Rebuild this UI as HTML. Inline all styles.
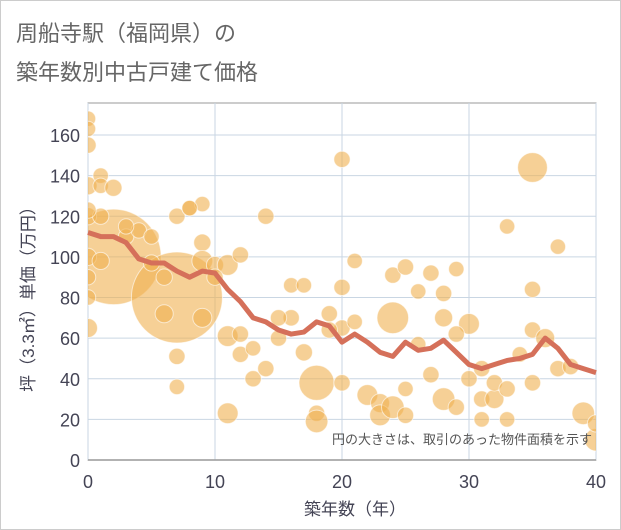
<!DOCTYPE html>
<html><head><meta charset="utf-8">
<style>
html,body{margin:0;padding:0;background:#fff;}
body{width:621px;height:530px;overflow:hidden;font-family:"Liberation Sans","Noto Sans CJK JP",sans-serif;}
#frame{position:absolute;left:0;top:0;width:619px;height:528px;border:1px solid #ccc;}
</style></head>
<body>
<div id="frame"></div>
<svg id="chart" width="621" height="530" style="position:absolute;left:0;top:0">
<text x="16" y="41" font-size="22" fill="#666" font-family="Liberation Sans, Noto Sans CJK JP, sans-serif">周船寺駅（福岡県）の</text>
<text x="16" y="80" font-size="22" fill="#666" font-family="Liberation Sans, Noto Sans CJK JP, sans-serif">築年数別中古戸建て価格</text>
<g id="grid"></g><g id="bubbles"></g><g id="line"></g><g id="axes"></g>
<text x="592" y="444" font-size="13" fill="#555" text-anchor="end" font-family="Liberation Sans, Noto Sans CJK JP, sans-serif">円の大きさは、取引のあった物件面積を示す</text>
<text x="355" y="515" font-size="17" fill="#445" text-anchor="middle" font-family="Liberation Sans, Noto Sans CJK JP, sans-serif">築年数（年）</text>
<text transform="translate(34,295) rotate(-90)" font-size="17" fill="#445" text-anchor="middle" font-family="Liberation Sans, Noto Sans CJK JP, sans-serif">坪（3.3㎡）単価（万円）</text>
</svg>
<script>
const xTicks=[0,10,20,30,40];
const yTicks=[0,20,40,60,80,100,120,140,160];
const trendVals=[112,110,110,107,99,97,97,93,90,93,92,84,78,70,68,64,62,63,68,66,58,62,58,53,51,58,54,55,59,53,47,45,47,49,50,52,60,55,47,45,43];
const bx=[2,7,35,24,18,28,39,11,11,0,0,0,0,0,0,0,0,0,1,1,1,1,2,3,4,5,5,6,7,7,7,8,9,9,9,9,10,11,12,12,13,13,14,14,15,16,16,17,17,18,18,19,20,20,20,20,21,21,22,23,23,24,24,25,25,25,26,27,27,28,28,29,29,30,30,31,31,31,32,32,33,33,34,35,35,35,36,37,37,38,40,0,3,6,8,10,12,15,19,26,29,33,40];
const by=[100,80,144,70,38,30,23,23,61,168,163,155,135,120,100,90,80,65,140,135,120,98,134,110,113,110,97,72,120,51,36,124,126,107,98,70,96,96,101,52,55,40,120,45,60,86,70,86,53,23,19,72,148,85,38,65,98,68,32,28,22,91,26,95,35,22,83,92,42,82,70,94,26,40,67,45,30,20,30,38,115,20,52,84,64,38,60,105,45,46,10,123,115,90,124,90,62,70,64,57,62,35,18];
const bs=[95,90,22,24,28,14,14,12,12,6,6,7,9,8,8,6,6,10,6,6,7,8,8,6,6,6,7,9,7,7,6,6,6,8,12,10,8,12,7,7,6,7,7,7,7,6,7,6,8,7,14,7,7,7,7,7,6,6,12,10,12,7,14,7,6,7,6,7,7,7,9,6,7,7,12,7,7,6,10,7,6,6,6,7,7,7,10,6,7,7,14,7,6,7,6,7,7,7,7,6,7,7,8];
const NS='http://www.w3.org/2000/svg';
const L=88,R=596,T=103,B=460;
const xs=v=>L+(v-0)/(40-0)*(R-L);
const ys=v=>B-(v-0)/160*(B-135);
const rs=s=>5+s*0.45;
function mk(tag,attrs,parent){const e=document.createElementNS(NS,tag);for(const k in attrs)e.setAttribute(k,attrs[k]);parent.appendChild(e);return e;}
const grid=document.getElementById('grid');
const bg=mk('rect',{x:L,y:T,width:R-L,height:B-T,fill:'#fff',stroke:'#999','stroke-width':1},grid);


yTicks.forEach(v=>{const l=mk('line',{x1:L,x2:R,y1:ys(v),y2:ys(v),stroke:'#c9d6e3','stroke-width':1},grid);


const t=mk('text',{x:L-8,y:ys(v)+7,'font-size':18,fill:'#445','text-anchor':'end'},grid);t.textContent=v;

});
xTicks.forEach(v=>{const l=mk('line',{x1:xs(v),x2:xs(v),y1:T,y2:B,stroke:'#c9d6e3','stroke-width':1},grid);


const t=mk('text',{x:xs(v),y:B+28,'font-size':18,fill:'#445','text-anchor':'middle'},grid);t.textContent=v;

});
const bub=document.getElementById('bubbles');
const cp=mk('clipPath',{id:'clip'},bub);mk('rect',{x:L,y:T,width:R-L,height:B-T},cp);
const bg2=mk('g',{'clip-path':'url(#clip)'},bub);
for(let i=0;i<bx.length;i++){const c=mk('circle',{cx:xs(bx[i]),cy:ys(by[i]),r:rs(bs[i]),fill:'rgba(240,176,80,0.6)',stroke:'#fff','stroke-opacity':0.6,'stroke-width':1},bg2);

}
const ln=document.getElementById('line');
const p=mk('polyline',{points:trendVals.map((v,i)=>xs(i)+','+ys(v)).join(' '),fill:'none',stroke:'#d5705a','stroke-width':5,'stroke-linejoin':'round'},ln);


const ax=document.getElementById('axes');
const xa=mk('line',{x1:L,x2:R,y1:B,y2:B,stroke:'#999','stroke-width':1.5},ax);


</script>
</body></html>
